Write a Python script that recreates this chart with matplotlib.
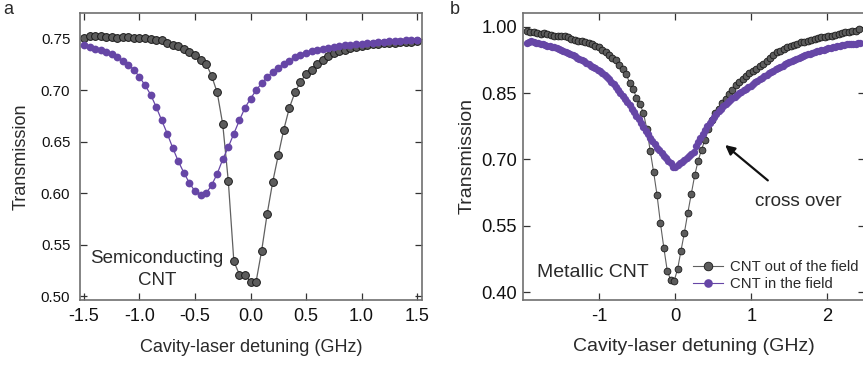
import matplotlib
matplotlib.use('Agg')
import matplotlib.pyplot as plt
import numpy as np
from matplotlib import font_manager

# %% data
# panel a: semiconducting CNT, 0.05 GHz steps from -1.5 to 1.5
detuning_a = np.round(np.arange(-1.5, 1.5001, 0.05), 3)
out_field_a = [
    0.751, 0.753, 0.753, 0.753, 0.752, 0.752, 0.751, 0.752, 0.752, 0.751,
    0.751, 0.751, 0.750, 0.749, 0.749, 0.746, 0.744, 0.743, 0.740, 0.737,
    0.734, 0.730, 0.726, 0.714, 0.698, 0.667, 0.612, 0.534, 0.521, 0.521,
    0.514, 0.514, 0.544, 0.580, 0.611, 0.637, 0.662, 0.683, 0.698, 0.708,
    0.716, 0.720, 0.726, 0.730, 0.733, 0.736, 0.738, 0.739, 0.741, 0.742,
    0.743, 0.744, 0.745, 0.745, 0.746, 0.746, 0.746, 0.747, 0.747, 0.747,
    0.748,
]
in_field_a = [
    0.744, 0.742, 0.740, 0.739, 0.737, 0.735, 0.732, 0.729, 0.725, 0.720,
    0.713, 0.705, 0.696, 0.684, 0.671, 0.658, 0.644, 0.631, 0.620, 0.610,
    0.602, 0.598, 0.600, 0.608, 0.619, 0.633, 0.645, 0.658, 0.671, 0.683,
    0.692, 0.700, 0.707, 0.713, 0.718, 0.722, 0.726, 0.729, 0.732, 0.734,
    0.736, 0.738, 0.739, 0.740, 0.741, 0.742, 0.743, 0.744, 0.744, 0.745,
    0.745, 0.746, 0.746, 0.747, 0.747, 0.748, 0.748, 0.748, 0.749, 0.749,
    0.749,
]

# panel b: metallic CNT
detuning_b_out = np.round(-1.95 + 0.045 * np.arange(98), 3)
out_field_b = [
    0.990, 0.988, 0.987, 0.985, 0.984, 0.986, 0.984, 0.982, 0.979, 0.978,
    0.978, 0.980, 0.976, 0.973, 0.971, 0.968, 0.967, 0.965, 0.964, 0.961,
    0.957, 0.953, 0.947, 0.942, 0.936, 0.929, 0.924, 0.914, 0.905, 0.893,
    0.873, 0.859, 0.840, 0.825, 0.806, 0.770, 0.720, 0.672, 0.620, 0.556,
    0.500, 0.448, 0.428, 0.426, 0.452, 0.494, 0.535, 0.580, 0.622, 0.664,
    0.697, 0.722, 0.745, 0.768, 0.790, 0.805, 0.815, 0.828, 0.836, 0.847,
    0.858, 0.868, 0.876, 0.882, 0.888, 0.895, 0.901, 0.905, 0.911, 0.916,
    0.922, 0.929, 0.936, 0.942, 0.946, 0.950, 0.954, 0.957, 0.959, 0.962,
    0.965, 0.966, 0.968, 0.970, 0.972, 0.974, 0.976, 0.977, 0.979, 0.980,
    0.982, 0.984, 0.985, 0.987, 0.988, 0.990, 0.991, 0.994,
]
detuning_b_in = np.round(-1.95 + 0.03 * np.arange(147), 3)
in_field_b = [
    0.963, 0.966, 0.967, 0.966, 0.964, 0.963, 0.962, 0.960, 0.958, 0.957,
    0.956, 0.955, 0.953, 0.951, 0.949, 0.948, 0.946, 0.943, 0.941, 0.939,
    0.936, 0.933, 0.930, 0.928, 0.925, 0.922, 0.918, 0.915, 0.912, 0.909,
    0.906, 0.902, 0.899, 0.895, 0.891, 0.886, 0.881, 0.875, 0.870, 0.864,
    0.857, 0.851, 0.844, 0.837, 0.830, 0.822, 0.815, 0.807, 0.799, 0.791,
    0.782, 0.773, 0.765, 0.757, 0.749, 0.741, 0.734, 0.727, 0.721, 0.715,
    0.709, 0.703, 0.697, 0.691, 0.684, 0.684, 0.688, 0.691, 0.695, 0.699,
    0.703, 0.708, 0.713, 0.718, 0.730, 0.740, 0.748, 0.757, 0.766, 0.775,
    0.783, 0.790, 0.797, 0.803, 0.809, 0.815, 0.820, 0.825, 0.830, 0.834,
    0.838, 0.842, 0.846, 0.850, 0.853, 0.857, 0.860, 0.863, 0.867, 0.870,
    0.874, 0.877, 0.881, 0.884, 0.888, 0.891, 0.895, 0.898, 0.901, 0.904,
    0.907, 0.909, 0.912, 0.915, 0.917, 0.920, 0.922, 0.925, 0.927, 0.929,
    0.932, 0.934, 0.936, 0.938, 0.939, 0.941, 0.942, 0.944, 0.945, 0.947,
    0.948, 0.950, 0.951, 0.952, 0.953, 0.955, 0.956, 0.957, 0.958, 0.959,
    0.960, 0.960, 0.961, 0.962, 0.962, 0.963, 0.963,
]

xticks_a = [-1.5, -1.0, -0.5, 0.0, 0.5, 1.0, 1.5]
yticks_a = [0.50, 0.55, 0.60, 0.65, 0.70, 0.75]
xticks_b = [-1, 0, 1, 2]
yticks_b = [0.40, 0.55, 0.70, 0.85, 1.00]

GRAY = '#5c5c5c'
PURPLE = '#6646a6'
TXT = '#2a2a2a'

plt.rcParams['font.family'] = ['Liberation Sans', 'DejaVu Sans']
plt.rcParams['axes.unicode_minus'] = False

names = {f.name for f in font_manager.fontManager.ttflist}
narrow = 'Liberation Sans Narrow' in names


def style_axes(ax, size):
    for sp in ax.spines.values():
        sp.set_color('#707070')
        sp.set_linewidth(1.2)
    ax.tick_params(direction='in', length=5, width=0.9, color='#333333',
                   top=True, right=True, labelsize=size, labelcolor='#111111')


fig = plt.figure(figsize=(8.63, 3.66), dpi=100)
W, H = 863, 366

# %% panel a
ax1 = fig.add_axes([80 / W, 1 - 300 / H, 342 / W, 287 / H])
ax1.plot(detuning_a, out_field_a, '-o', color='#606060', lw=0.9, ms=5.6,
         mfc=GRAY, mec='#1a1a1a', mew=0.7, zorder=2)
ax1.plot(detuning_a, in_field_a, '-o', color=PURPLE, lw=0.9, ms=5.6,
         mfc=PURPLE, mec=PURPLE, mew=0, zorder=3)
ax1.set_xlim(-1.536, 1.545)
ax1.set_ylim(0.4964, 0.7752)
ax1.set_xticks(xticks_a)
ax1.set_xticklabels([f'{v:.1f}' for v in xticks_a])
ax1.set_yticks(yticks_a)
style_axes(ax1, 13)
ax1.set_yticklabels([f'{v:.2f}' for v in yticks_a])
if narrow:
    for t in ax1.get_yticklabels():
        t.set_fontfamily('Liberation Sans Narrow')
        t.set_fontsize(13)
else:
    for t in ax1.get_yticklabels():
        t.set_fontsize(10.8)
ax1.tick_params(axis='x', pad=6)
ax1.tick_params(axis='y', pad=7)
ax1.set_xlabel('Cavity-laser detuning (GHz)', fontsize=13, color=TXT, labelpad=10)
ax1.set_ylabel('Transmission', fontsize=13, color=TXT, labelpad=8)
ax1.text(-0.842, 0.526, 'Semiconducting\nCNT', fontsize=13.5, color=TXT,
         ha='center', va='center', linespacing=1.35)

# %% panel b
ax2 = fig.add_axes([522.7 / W, 1 - 299.7 / H, 342.3 / W, 287 / H])
ax2.plot(detuning_b_out, out_field_b, '-o', color='#606060', lw=0.8, ms=4.9,
         mfc=GRAY, mec='#1a1a1a', mew=0.6, zorder=2, label='CNT out of the field')
ax2.plot(detuning_b_in, in_field_b, '-o', color=PURPLE, lw=0.8, ms=5.3,
         mfc=PURPLE, mec=PURPLE, mew=0, zorder=3, label='CNT in the field')
ax2.set_xlim(-2.005, 2.493)
ax2.set_ylim(0.3833, 1.0316)
ax2.set_xticks(xticks_b)
ax2.set_xticklabels([str(v) for v in xticks_b])
ax2.set_yticks(yticks_b)
ax2.set_yticklabels([f'{v:.2f}' for v in yticks_b])
style_axes(ax2, 13.2)
ax2.tick_params(axis='x', pad=6)
ax2.tick_params(axis='y', pad=4)
ax2.set_xlabel('Cavity-laser detuning (GHz)', fontsize=14, color=TXT, labelpad=9)
ax2.set_ylabel('Transmission', fontsize=14, color=TXT, labelpad=4)
ax2.text(-1.817, 0.4458, 'Metallic CNT', fontsize=14, color=TXT, ha='left', va='center')
ax2.text(1.045, 0.606, 'cross over', fontsize=13.6, color=TXT, ha='left', va='center')
ax2.annotate('', xy=(0.627, 0.7368), xytext=(1.244, 0.6488),
             arrowprops=dict(arrowstyle='-|>', color='#111111', lw=1.6,
                             mutation_scale=14))
leg = ax2.legend(loc='lower left', bbox_to_anchor=(0.4975, 0.03), frameon=False,
                 fontsize=10.7, handlelength=2.0, handletextpad=0.5,
                 labelspacing=0.2, borderpad=0, borderaxespad=0)
for t in leg.get_texts():
    t.set_color(TXT)
for h in leg.legend_handles:
    h.set_markersize(6.2)

fig.text(8 / W, 1 - 10 / H, 'a', fontsize=13, color=TXT, ha='center', va='center')
fig.text(455 / W, 1 - 10 / H, 'b', fontsize=13, color=TXT, ha='center', va='center')

fig.savefig('out.png', dpi=100)
